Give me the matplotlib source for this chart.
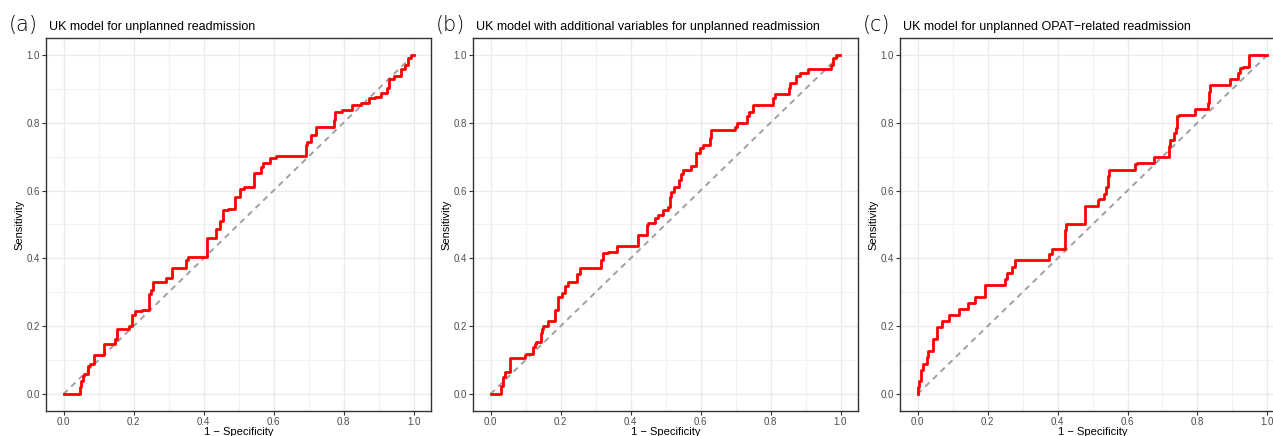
import numpy as np
import matplotlib
matplotlib.use("Agg")
import matplotlib.pyplot as plt
from matplotlib.ticker import MultipleLocator

plt.rcParams["font.family"] = ["Liberation Sans", "DejaVu Sans"]

# ROC curves (1 - specificity, sensitivity)
fpr_a = [0, 0.046, 0.05, 0.057, 0.059, 0.071, 0.076, 0.086, 0.1, 0.117, 0.122, 0.148, 0.154, 0.162,
         0.188, 0.195, 0.205, 0.224, 0.243, 0.25, 0.257, 0.271, 0.293, 0.31, 0.324, 0.35, 0.357,
         0.367, 0.41, 0.419, 0.436, 0.448, 0.455, 0.471, 0.49, 0.504, 0.517, 0.544, 0.563, 0.57,
         0.591, 0.606, 0.62, 0.692, 0.696, 0.706, 0.72, 0.736, 0.772, 0.777, 0.796, 0.825, 0.849,
         0.872, 0.891, 0.906, 0.925, 0.93, 0.944, 0.963, 0.975, 0.985, 0.993, 1.0]
tpr_a = [0, 0, 0.022, 0.039, 0.052, 0.059, 0.082, 0.089, 0.116, 0.116, 0.148, 0.148, 0.163, 0.192,
         0.192, 0.202, 0.232, 0.244, 0.247, 0.296, 0.308, 0.330, 0.330, 0.343, 0.372, 0.372, 0.394,
         0.404, 0.404, 0.459, 0.459, 0.488, 0.511, 0.542, 0.545, 0.581, 0.606, 0.611, 0.651, 0.671,
         0.681, 0.695, 0.702, 0.702, 0.734, 0.744, 0.764, 0.787, 0.787, 0.809, 0.831, 0.838, 0.851,
         0.857, 0.872, 0.877, 0.887, 0.904, 0.928, 0.938, 0.958, 0.971, 0.99, 1.0]

fpr_b = [0, 0.031, 0.036, 0.041, 0.046, 0.055, 0.055, 0.098, 0.101, 0.122, 0.127, 0.131, 0.143,
         0.146, 0.15, 0.165, 0.17, 0.184, 0.187, 0.193, 0.203, 0.212, 0.222, 0.229, 0.248, 0.255,
         0.265, 0.317, 0.322, 0.336, 0.36, 0.374, 0.422, 0.427, 0.446, 0.45, 0.469, 0.479, 0.493,
         0.507, 0.512, 0.517, 0.524, 0.539, 0.543, 0.55, 0.574, 0.588, 0.598, 0.607, 0.626, 0.631,
         0.644, 0.698, 0.703, 0.712, 0.733, 0.739, 0.75, 0.774, 0.807, 0.812, 0.831, 0.853, 0.857,
         0.872, 0.884, 0.908, 0.922, 0.974, 0.979, 0.988, 0.998]
tpr_b = [0, 0, 0.025, 0.049, 0.064, 0.064, 0.107, 0.107, 0.116, 0.118, 0.138, 0.148, 0.153, 0.179,
         0.192, 0.202, 0.215, 0.215, 0.247, 0.247, 0.286, 0.298, 0.318, 0.330, 0.330, 0.355, 0.372,
         0.372, 0.394, 0.416, 0.419, 0.437, 0.437, 0.468, 0.468, 0.498, 0.503, 0.518, 0.528, 0.542,
         0.552, 0.582, 0.597, 0.611, 0.631, 0.649, 0.661, 0.673, 0.71, 0.725, 0.734, 0.754, 0.779,
         0.779, 0.789, 0.798, 0.798, 0.82, 0.833, 0.852, 0.852, 0.874, 0.885, 0.885, 0.904, 0.916,
         0.938, 0.948, 0.958, 0.958, 0.971, 0.99, 1.0]

fpr_c = [0, 0.005, 0.01, 0.017, 0.027, 0.029, 0.043, 0.055, 0.07, 0.089, 0.119, 0.144, 0.165, 0.193,
         0.212, 0.25, 0.255, 0.269, 0.279, 0.296, 0.376, 0.384, 0.392, 0.42, 0.424, 0.436, 0.479,
         0.487, 0.517, 0.519, 0.534, 0.538, 0.544, 0.546, 0.57, 0.622, 0.627, 0.677, 0.679, 0.719,
         0.722, 0.732, 0.738, 0.741, 0.746, 0.793, 0.795, 0.831, 0.833, 0.836, 0.843, 0.893, 0.896,
         0.917, 0.922, 0.929, 0.946, 0.948, 0.96, 0.998]
tpr_c = [0, 0.02, 0.039, 0.071, 0.089, 0.108, 0.126, 0.163, 0.197, 0.215, 0.232, 0.251, 0.269, 0.286,
         0.322, 0.322, 0.340, 0.357, 0.375, 0.394, 0.394, 0.412, 0.429, 0.429, 0.483, 0.501, 0.501,
         0.554, 0.554, 0.572, 0.574, 0.59, 0.612, 0.643, 0.661, 0.661, 0.679, 0.681, 0.698, 0.698,
         0.731, 0.749, 0.77, 0.786, 0.821, 0.823, 0.84, 0.84, 0.859, 0.892, 0.912, 0.912, 0.928,
         0.928, 0.946, 0.963, 0.965, 0.983, 1.0, 1.0]

labels = ["(a)", "(b)", "(c)"]
titles = ["UK model for unplanned readmission",
          "UK model with additional variables for unplanned readmission",
          "UK model for unplanned OPAT\u2212related readmission"]
curves = [(fpr_a, tpr_a), (fpr_b, tpr_b), (fpr_c, tpr_c)]

W, H = 1273, 436
fig = plt.figure(figsize=(W / 100, H / 100), dpi=100)

lefts = [46, 473, 900]
for i in range(3):
    l = lefts[i]
    ax = fig.add_axes([l / W, (H - 411) / H, 385 / W, 373 / H])
    ax.set_xlim(-0.05, 1.05)
    ax.set_ylim(-0.05, 1.05)
    ax.xaxis.set_major_locator(MultipleLocator(0.2))
    ax.yaxis.set_major_locator(MultipleLocator(0.2))
    ax.xaxis.set_minor_locator(MultipleLocator(0.1))
    ax.yaxis.set_minor_locator(MultipleLocator(0.1))
    ax.grid(True, which="major", color="#EBEBEB", lw=1.0)
    ax.grid(True, which="minor", color="#F2F2F2", lw=0.8)
    ax.tick_params(which="minor", length=0)
    ax.tick_params(which="major", length=3, width=0.8, color="#333333",
                   labelsize=7, labelcolor="#4D4D4D", pad=1.5)
    ax.xaxis.set_major_formatter(lambda v, p: f"{v:.1f}")
    ax.yaxis.set_major_formatter(lambda v, p: f"{v:.1f}")
    ax.set_axisbelow(True)
    for s in ax.spines.values():
        s.set_color("#333333")
        s.set_linewidth(1.0)

    ax.plot([0, 1], [0, 1], ls=(0, (3, 2.5)), color="#A0A0A0", lw=1.4)
    x, y = curves[i]
    ax.plot(x, y, color="red", lw=2.0, drawstyle="steps-pre")

    ax.set_xlabel("1 \u2212 Specificity", fontsize=8, labelpad=0)
    ax.set_ylabel("Sensitivity", fontsize=8, labelpad=1)

    fig.text((l - 37) / W, 1 - 31 / H, labels[i], fontsize=15,
             family="DejaVu Sans", fontweight="light", va="baseline", ha="left")
    fig.text((l + 3) / W, 1 - 30 / H, titles[i], fontsize=9, va="baseline", ha="left")

fig.savefig("out.png", dpi=100)
